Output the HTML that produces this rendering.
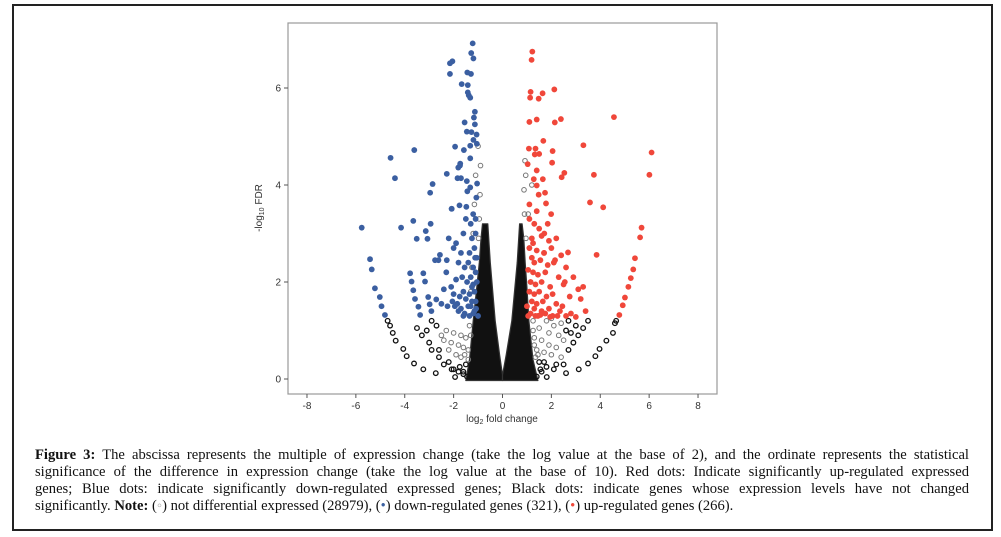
<!DOCTYPE html>
<html><head><meta charset="utf-8">
<style>
html,body{margin:0;padding:0;background:#fff;}
body{width:1001px;height:537px;position:relative;overflow:hidden;font-family:"Liberation Sans",sans-serif;}
#frame{position:absolute;left:12px;top:4px;width:977px;height:523px;border:2px solid #222;box-sizing:content-box;}
#caption{position:absolute;left:35px;top:447px;width:934px;font-family:"Liberation Serif",serif;font-size:14.6px;color:#111;line-height:17px;}
#caption div{text-align:justify;text-align-last:justify;white-space:nowrap;}
#caption div.last{text-align-last:left;}
svg{position:absolute;left:0;top:0;}
</style></head>
<body>
<div id="frame"></div>
<svg id="chart" width="1001" height="537"></svg>
<div id="caption">
<div><b>Figure 3:</b> The abscissa represents the multiple of expression change (take the log value at the base of 2), and the ordinate represents the statistical</div>
<div>significance of the difference in expression change (take the log value at the base of 10). Red dots: Indicate significantly up-regulated expressed</div>
<div>genes; Blue dots: indicate significantly down-regulated expressed genes; Black dots: indicate genes whose expression levels have not changed</div>
<div class="last">significantly. <b>Note:</b> (<span style="color:#aaa">&#9702;</span>) not differential expressed (28979), (<span style="color:#3a5fa0">&#8226;</span>) down-regulated genes (321), (<span style="color:#f04a3c">&#8226;</span>) up-regulated genes (266).</div>
</div>
<script>
const xTicks=[-8,-6,-4,-2,0,2,4,6,8];
const yTicks=[0,2,4,6];
const blueX=[-1.22,-1.28,-1.19,-2.15,-2.05,-2.15,-1.44,-1.29,-1.67,-1.42,-1.42,-1.38,-1.32,-1.13,-1.17,-1.55,-1.13,-1.46,-1.27,-1.06,-1.19,-1.32,-1.05,-1.94,-1.58,-4.58,-3.61,-1.32,-1.73,-1.81,-2.28,-4.40,-1.84,-1.70,-1.46,-1.04,-2.86,-2.96,-1.32,-1.44,-1.07,-2.08,-1.76,-1.48,-5.76,-4.15,-3.65,-3.51,-3.14,-2.94,-3.07,-5.42,-5.35,-5.22,-5.02,-4.95,-4.81,-3.78,-3.72,-3.65,-3.58,-3.44,-3.37,-3.24,-3.17,-3.04,-2.98,-2.91,-2.71,-2.56,-2.62,-2.76,-2.28,-1.74,-2.08,-1.2,-1.1,-1.3,-1.5,-1.1,-1.25,-1.6,-1.9,-2.2,-1.15,-1.35,-1.05,-1.7,-2.0,-1.4,-1.2,-1.1,-1.55,-1.8,-2.3,-1.3,-1.05,-1.2,-1.45,-1.65,-1.9,-2.1,-2.4,-1.15,-1.35,-1.6,-1.75,-2.0,-1.1,-1.25,-1.5,-1.85,-2.05,-1.3,-1.08,-1.4,-1.7,-1.95,-2.25,-1.2,-1.15,-1.55,-1.0,-1.35,-2.5,-1.6,-1.25,-1.8,-1.12];
const blueY=[6.92,6.72,6.61,6.51,6.55,6.29,6.32,6.29,6.08,6.06,5.91,5.85,5.80,5.51,5.39,5.29,5.25,5.10,5.09,5.04,4.93,4.81,4.85,4.79,4.72,4.56,4.72,4.55,4.44,4.36,4.23,4.14,4.14,4.14,4.08,4.03,4.02,3.84,3.95,3.87,3.74,3.51,3.58,3.55,3.12,3.12,3.26,2.89,3.05,3.20,2.89,2.47,2.26,1.87,1.69,1.50,1.32,2.18,2.01,1.83,1.65,1.49,1.32,2.18,2.01,1.69,1.54,1.40,1.64,2.56,2.45,2.45,2.45,4.40,3.51,3.4,3.3,3.2,3.3,3.0,2.9,3.0,2.8,2.9,2.7,2.6,2.5,2.6,2.7,2.4,2.3,2.2,2.3,2.4,2.2,2.1,2.0,1.95,2.0,2.1,2.05,1.9,1.85,1.8,1.75,1.8,1.7,1.75,1.6,1.6,1.65,1.55,1.6,1.5,1.45,1.5,1.45,1.5,1.5,1.35,1.4,1.35,1.3,1.3,1.55,1.3,1.9,1.4,2.5];
const redX=[1.22,1.19,1.15,1.64,2.12,1.13,1.48,1.40,1.10,2.14,2.39,4.56,1.67,1.08,1.35,2.05,3.31,6.10,1.32,1.03,1.50,2.03,2.53,2.42,3.74,6.01,1.28,1.65,1.40,1.74,1.48,1.78,3.58,4.12,1.40,1.99,5.69,5.63,1.71,5.42,5.35,5.25,5.15,5.01,4.92,4.78,3.85,2.68,1.1,1.3,1.5,1.2,1.6,1.9,2.2,1.1,1.4,1.7,2.0,2.4,1.2,1.3,1.55,1.85,2.1,2.6,1.05,1.25,1.45,1.75,2.3,2.9,1.15,1.35,1.6,1.95,2.5,3.1,1.1,1.3,1.5,1.8,2.05,2.75,3.2,1.2,1.4,1.65,2.2,2.45,1.0,1.3,1.6,1.9,2.35,2.8,3.4,1.15,1.45,1.75,2.05,2.6,1.05,1.35,1.55,1.95,2.25,3.0,1.25,1.7,1.1,2.15,2.55,1.4,1.85,3.3];
const redY=[6.75,6.58,5.92,5.89,5.97,5.80,5.78,5.35,5.30,5.29,5.36,5.40,4.91,4.75,4.75,4.70,4.82,4.67,4.63,4.43,4.64,4.46,4.25,4.16,4.21,4.21,4.12,4.12,3.99,3.84,3.80,3.62,3.64,3.54,3.46,3.40,3.12,2.92,3.00,2.49,2.26,2.08,1.90,1.68,1.52,1.32,2.56,2.61,3.3,3.2,3.1,2.9,2.95,2.85,2.9,2.7,2.65,2.6,2.7,2.55,2.5,2.4,2.45,2.35,2.4,2.3,2.25,2.2,2.15,2.2,2.1,2.1,2.0,1.95,2.0,1.9,1.95,1.85,1.8,1.75,1.8,1.7,1.75,1.7,1.65,1.6,1.55,1.6,1.55,1.5,1.5,1.45,1.4,1.45,1.4,1.35,1.4,1.35,1.3,1.35,1.3,1.3,1.3,1.3,1.32,1.28,1.3,1.28,2.8,2.6,3.6,2.45,2.0,4.3,3.2,1.9];
const grayX=[-3.24,-3.62,-3.92,-4.06,-4.37,-4.49,-4.6,-4.7,3.12,3.50,3.80,3.97,4.25,4.52,4.60,4.65,-2.73,-1.94,-2.08,1.81,2.60,-2.4,-2.6,-2.9,-3.0,-3.3,-3.5,-2.2,-2.0,-1.8,-1.6,-1.5,-2.5,-2.7,-2.2,-1.9,-1.7,-1.4,-2.9,-3.1,-2.4,-2.1,-1.8,-1.6,-2.3,-2.0,-1.7,-1.5,-2.6,-1.35,2.2,2.4,2.7,2.9,3.1,3.3,3.5,1.6,1.8,2.0,2.2,2.5,2.8,3.0,1.5,1.7,1.9,2.3,2.6,1.4,1.6,1.9,2.1,2.4,2.7,1.3,1.5,1.8,2.0,1.35,2.5,2.1,1.25,-1.3,-1.25,-1.2,-1.15,-1.1,1.15,1.1,1.05,1.2,-1.0,0.95,-1.45,-1.6,-1.75,-1.4,-1.55,-1.3,1.4,1.55,1.7,1.3,1.45,1.25,-0.95,-0.92,-0.9,0.9,0.88,0.92,-0.98,0.96];
const grayY=[0.20,0.32,0.47,0.62,0.79,0.95,1.1,1.2,0.20,0.32,0.47,0.62,0.79,0.95,1.15,1.2,0.12,0.04,0.20,0.04,0.12,0.3,0.45,0.6,0.75,0.9,1.05,0.35,0.2,0.15,0.1,0.3,0.9,1.1,0.6,0.5,0.45,0.4,1.2,1.0,0.8,0.75,0.7,0.65,1.0,0.95,0.9,0.85,0.6,1.1,0.3,0.45,0.6,0.75,0.9,1.05,1.2,0.15,0.25,0.5,0.65,0.8,0.95,1.1,0.35,0.55,0.7,0.9,1.0,0.6,0.8,0.95,1.1,1.15,1.2,0.85,1.05,1.2,1.25,0.45,0.3,0.2,1.2,1.8,2.3,3.0,3.6,4.2,2.0,2.7,3.4,4.0,4.8,4.2,0.05,0.15,0.25,0.6,0.5,0.9,0.05,0.2,0.35,0.7,0.5,1.0,3.3,3.8,4.4,3.4,3.9,4.5,2.9,2.9];
// dense non-significant mass: left arm and right arm polygons (data units)
const leftArmX=[-1.5,-1.35,-1.2,-1.05,-0.95,-0.88,-0.82,-0.6,-0.5,-0.3,-0.12,0.0,0.0];
const leftArmY=[-0.03,0.4,1.2,1.9,2.4,2.9,3.2,3.2,2.4,1.2,0.5,0.08,-0.03];
const rightArmX=[0.0,0.0,0.15,0.38,0.6,0.7,0.8,0.87,0.93,1.0,1.08,1.25,1.45];
const rightArmY=[-0.03,0.08,0.5,1.2,2.4,3.2,3.2,2.9,2.4,1.9,1.2,0.4,-0.03];

const NS='http://www.w3.org/2000/svg';
const svg=document.getElementById('chart');
const L=288,R=717,T=23,B=394;
const xs=v=>502.5+v*24.44;
const ys=v=>379-v*48.5;
function mk(t,a){const e=document.createElementNS(NS,t);for(const k in a)e.setAttribute(k,a[k]);svg.appendChild(e);return e;}
const panel=mk('rect',{x:L,y:T,width:R-L,height:B-T,fill:'#fff',stroke:'#999','stroke-width':1.2});


function arm(X,Y,name){
 let d='';X.forEach((x,i)=>{d+=(i?'L':'M')+xs(x).toFixed(1)+','+ys(Y[i]).toFixed(1);});
 const p=mk('path',{d:d+'Z',fill:'#111',stroke:'#333','stroke-width':1.2,'stroke-linejoin':'round'});
 
 
}
arm(leftArmX,leftArmY,'nonsignificant-dense-left');
arm(rightArmX,rightArmY,'nonsignificant-dense-right');
grayX.forEach((x,i)=>{
 const dark=Math.abs(x)>2.5||i<21||grayY[i]<0.4;
 const c=mk('circle',{cx:xs(x),cy:ys(grayY[i]),r:2.3,fill:'none',stroke:dark?'#111':'#777','stroke-width':dark?1.3:1});
 
 
});
blueX.forEach((x,i)=>{
 const c=mk('circle',{cx:xs(x),cy:ys(blueY[i]),r:2.9,fill:'#3b5fa1'});
 
 
});
redX.forEach((x,i)=>{
 const c=mk('circle',{cx:xs(x),cy:ys(redY[i]),r:2.9,fill:'#f0473a'});
 
 
});
xTicks.forEach(v=>{
 mk('line',{x1:xs(v),x2:xs(v),y1:B,y2:B+4,stroke:'#555','stroke-width':1});
 const t=mk('text',{x:xs(v),y:B+15,'text-anchor':'middle','font-size':10,fill:'#333','font-family':'Liberation Sans'});
 t.textContent=v;
 
 
});
yTicks.forEach(v=>{
 mk('line',{x1:L-4,x2:L,y1:ys(v),y2:ys(v),stroke:'#555','stroke-width':1});
 const t=mk('text',{x:L-7,y:ys(v)+3.5,'text-anchor':'end','font-size':10,fill:'#333','font-family':'Liberation Sans'});
 t.textContent=v;
 
 
});
const xl=mk('text',{x:502,y:422,'text-anchor':'middle','font-size':10,fill:'#333','font-family':'Liberation Sans'});
xl.innerHTML='log<tspan font-size="7" dy="2">2</tspan><tspan dy="-2"> fold change</tspan>';


const yl=mk('text',{x:0,y:0,'text-anchor':'middle','font-size':10,fill:'#333','font-family':'Liberation Sans',transform:'translate(262,208) rotate(-90)'});
yl.innerHTML='-log<tspan font-size="7" dy="2">10</tspan><tspan dy="-2"> FDR</tspan>';


</script>
</body></html>
